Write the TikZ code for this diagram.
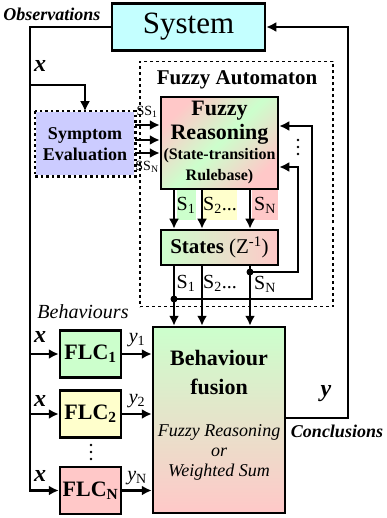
\documentclass[tikz,border=0pt]{standalone}
\usepackage{fontspec}
\setmainfont{Liberation Serif}
\usetikzlibrary{arrows.meta}
\newcommand{\fsz}[2]{\fontsize{#1}{#2}\selectfont}
\definecolor{lgreen}{RGB}{204,255,204}
\definecolor{lpink}{RGB}{255,200,200}
\definecolor{lyellow}{RGB}{255,255,204}
\definecolor{lviolet}{RGB}{204,204,255}
\definecolor{lcyan}{RGB}{196,255,255}
\begin{document}
\begin{tikzpicture}[x=1pt,y=-1pt,>={Latex[length=10pt,width=10pt]},
  box/.style={draw,line width=2.5pt,align=center,inner sep=1pt},
  line/.style={line width=2.5pt},
  lab/.style={inner sep=0pt,align=center}]
\useasboundingbox (0,0) rectangle (387,518);
% automaton frame
\node[draw,dashed,line width=1.2pt,minimum width=193,minimum height=245] (fa) at (236.5,184) {};
\node[lab,font=\fsz{21}{23}\bfseries] (fatitle) at (237,80) {Fuzzy Automaton};
% blocks
\node[box,fill=lcyan,minimum width=153,minimum height=47,font=\fsz{31}{33}] (sys) at (188.5,27) {System};
\node[box,draw=none,fill=lviolet,minimum width=98,minimum height=63,font=\fsz{18}{21}\bfseries] (sym) at (85,144) {Symptom\\Evaluation};
\draw[line width=2.5pt,dash pattern=on 2.5pt off 3pt] (sym.north west) rectangle (sym.south east);
\node[box,top color=lpink,bottom color=lpink,middle color=lgreen,shading angle=45,minimum width=117,minimum height=92,font=\fsz{22}{24}\bfseries] (fr) at (219.5,143)
  {Fuzzy\\Reasoning\\[-4pt]{\fsz{16}{18}(State-transition}\\[-3pt]{\fsz{16}{18}Rulebase)}};
\node[box,left color=lgreen,right color=lpink,minimum width=117,minimum height=35,font=\fsz{21}{23}] (st) at (219.5,247.5) {\textbf{States} (Z\textsuperscript{-1})};
\node[box,top color=lgreen,bottom color=lpink,minimum width=132,minimum height=186] (bf) at (219,420) {};
\node[lab,font=\fsz{22}{29}\bfseries] (bftitle) at (219,372) {Behaviour\\fusion};
\node[lab,font=\fsz{18}{20}\itshape] (bfsub) at (219,452) {Fuzzy Reasoning\\or\\Weighted Sum};
\node[box,fill=lgreen,minimum width=61,minimum height=47,font=\fsz{22}{24}\bfseries] (flc1) at (90.5,354) {FLC\textsubscript{1}};
\node[box,fill=lyellow,minimum width=61,minimum height=47,font=\fsz{22}{24}\bfseries] (flc2) at (90.5,414) {FLC\textsubscript{2}};
\node[box,fill=lpink,minimum width=61,minimum height=47,font=\fsz{22}{24}\bfseries] (flcn) at (90.5,490.5) {FLC\textsubscript{N}};
% inputs
\coordinate (obs) at (30,27);
\coordinate (xin) at (30,85);
\draw[line,->] (sys.west) -- (obs) |- (flcn.west);
\draw[line,->] (xin) -| (sym.north);
\draw[line,->] (obs |- flc1.west) -- (flc1.west);
\draw[line,->] (obs |- flc2.west) -- (flc2.west);
\foreach \y in {125,140,153}
  \draw[line,->] (sym.east |- 0,\y) -- (fr.west |- 0,\y);
\node[lab,font=\fsz{14}{15}] (ss1) at (147,112) {SS\textsubscript{1}};
\node[lab,font=\fsz{14}{15}] (ssn) at (147,167) {SS\textsubscript{N}};
% states
\node[lab,fill=lgreen,minimum width=19,minimum height=30,font=\fsz{20}{22}] (s1a) at (186,205) {S\textsubscript{1}};
\node[lab,fill=lyellow,minimum width=32,minimum height=30,font=\fsz{20}{22}] (s2a) at (220,205) {S\textsubscript{2}...};
\node[lab,fill=lpink,minimum width=26,minimum height=30,font=\fsz{20}{22}] (sna) at (265,205) {S\textsubscript{N}};
\foreach \x in {174,202,250}
  \draw[line,->] (fr.south -| \x,0) -- (st.north -| \x,0);
\foreach \x in {174,202,250}
  \draw[line,->] (st.south -| \x,0) -- (bf.north -| \x,0);
\node[lab,font=\fsz{20}{22}] (s1b) at (186,283) {S\textsubscript{1}};
\node[lab,font=\fsz{20}{22}] (s2b) at (220,283) {S\textsubscript{2}...};
\node[lab,font=\fsz{20}{22}] (snb) at (265,284) {S\textsubscript{N}};
% feedback
\coordinate (fbn) at (250,272);
\coordinate (fb1) at (174,299);
\fill (fbn) circle (3.5);
\fill (fb1) circle (3.5);
\draw[line,->] (fbn) -- (298,272) |- (fr.east |- 0,167);
\draw[line,->] (fb1) -- (312,299) |- (fr.east |- 0,126);
\foreach \y in {140,147,154}
  \fill (298,\y) circle (1.3);
% outputs
\draw[line,->] (flc1.east) -- (bf.west |- flc1.east);
\draw[line,->] (flc2.east) -- (bf.west |- flc2.east);
\draw[line,->] (flcn.east) -- (bf.west |- flcn.east);
\coordinate (out) at (348,418);
\draw[line,->] (bf.east |- out) -- (out) |- (sys.east);
% labels
\node[lab,font=\fsz{18}{20}\bfseries\itshape] (obstxt) at (52,14) {Observations};
\node[lab,font=\fsz{24}{26}\bfseries\itshape] (x0) at (40,66) {x};
\node[lab,font=\fsz{20}{22}\itshape] (behtxt) at (83,312) {Behaviours};
\node[lab,font=\fsz{24}{26}\bfseries\itshape] (x1) at (40,337) {x};
\node[lab,font=\fsz{24}{26}\bfseries\itshape] (x2) at (40,401) {x};
\node[lab,font=\fsz{24}{26}\bfseries\itshape] (xn) at (40,476) {x};
\node[lab,font=\fsz{20}{22}] (y1) at (137,340) {\textit{y}\textsubscript{1}};
\node[lab,font=\fsz{20}{22}] (y2) at (137,401) {\textit{y}\textsubscript{2}};
\node[lab,font=\fsz{20}{22}] (yn) at (137,478) {\textit{y}\textsubscript{N}};
\foreach \y in {445,452,459}
  \fill (91,\y) circle (1.3);
\node[lab,font=\fsz{24}{26}\bfseries\itshape] (yout) at (326,394) {y};
\node[lab,font=\fsz{18}{20}\bfseries\itshape] (contxt) at (337,431) {Conclusions};
\end{tikzpicture}
\end{document}
